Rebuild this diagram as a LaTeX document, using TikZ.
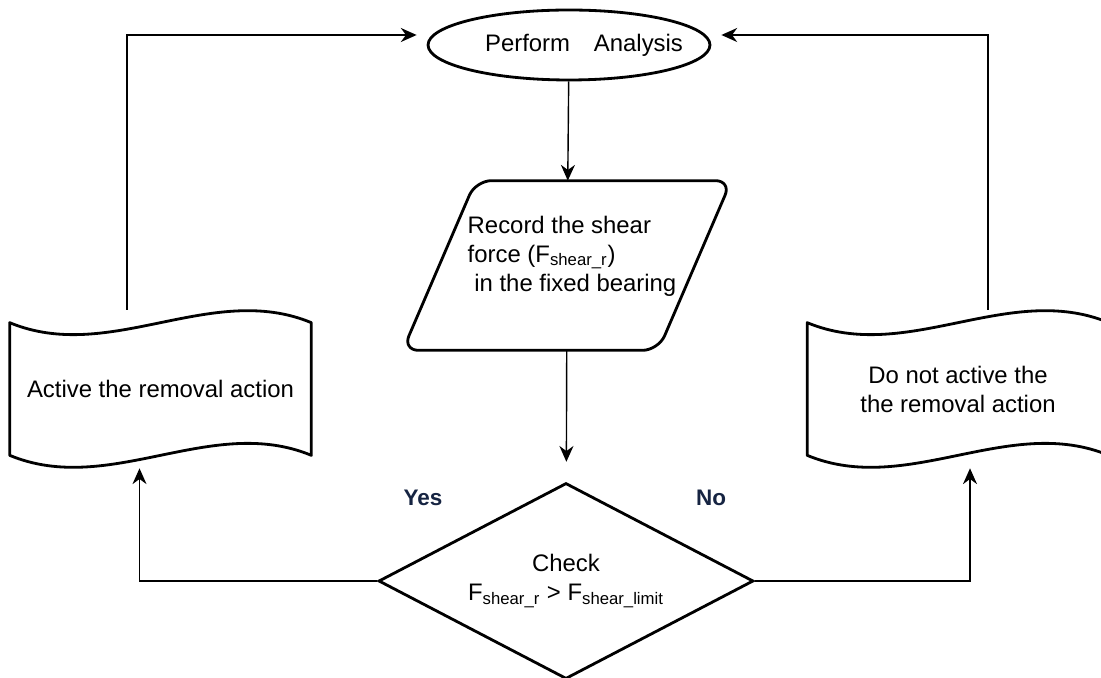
\documentclass[tikz,border=0pt]{standalone}
\usepackage{fontspec}
\setmainfont{Liberation Sans}
\usepackage{tikz}
\usetikzlibrary{arrows.meta,positioning,shapes.geometric}
\definecolor{answercolor}{RGB}{22,36,66}

\tikzset{
  base/.style={font=\fontsize{13.6}{16.5}\selectfont, text=black},
  startstop/.style={base, ellipse, draw, line width=1.6pt, minimum width=5.64cm,
                    minimum height=1.4cm, inner sep=0pt},
  iobox/.style={minimum width=6.56cm, minimum height=3.38cm, inner sep=0pt},
  decision/.style={base, diamond, draw, line width=1.6pt, aspect=1.91,
                   minimum width=7.5cm, minimum height=3.92cm, inner sep=0pt,
                   align=center},
  tapebox/.style={base, minimum width=6.02cm, minimum height=3.16cm, inner sep=0pt,
                  align=center},
  shapeline/.style={line width=1.6pt, line join=round},
  flow/.style={-{Stealth[length=9pt,width=8pt]}, line width=0.8pt},
  answer/.style={font=\bfseries\fontsize{12.8}{15}\selectfont, text=answercolor}
}

% wavy document outline drawn round a tapebox node
\newcommand{\tapeoutline}[1]{%
  \draw[shapeline] ([yshift=-0.26cm]#1.north west)
    .. controls +(2cm,-0.83cm) and +(-2cm,0.83cm) .. ([yshift=-0.26cm]#1.north east)
    -- ([yshift=0.26cm]#1.south east)
    .. controls +(-2cm,0.83cm) and +(2cm,-0.83cm) .. ([yshift=0.26cm]#1.south west)
    -- cycle;}

\begin{document}
\begin{tikzpicture}[x=0.02cm, y=-0.02cm]
  \useasboundingbox (0,0) rectangle (1101,678);

  \node[startstop] (perform) at (569,45)
    {\makebox[3.5cm]{\hspace{0.6cm}Perform\quad Analysis}};

  \node[iobox] (record) at (567,265.5) {};
  \draw[shapeline, rounded corners=9pt] (record.south west)
    -- ([xshift=-1.46cm]record.south east) -- (record.north east)
    -- ([xshift=1.46cm]record.north west) -- cycle;
  \node[base, align=left] (recordtext) at (572,256)
    {Record the shear\\force (F\textsubscript{shear\_r})\\\ in the fixed bearing};

  \node[decision] (check) at (566,581)
    {Check\\F\textsubscript{shear\_r} > F\textsubscript{shear\_limit}};

  \node[tapebox] (activate) at (160.5,389) {Active the removal action};
  \tapeoutline{activate}
  \node[tapebox] (skip) at (958,389) {Do not active the\\the removal action};
  \tapeoutline{skip}

  \node[answer] (yes) at (423,498) {Yes};
  \node[answer] (no) at (711,498) {No};

  % main line
  \draw[flow] (perform) -- (record);
  \draw[flow, shorten >=0.4cm] (record) -- (check);

  % branches
  \draw[flow] (check.west) -| ([xshift=-0.42cm]activate.south);
  \draw[flow] (check.east) -| ([xshift=0.24cm]skip.south);

  % back to the analysis
  \draw[flow] ([xshift=-0.67cm]activate.north) |- ([xshift=-0.2cm,yshift=0.2cm]perform.west);
  \draw[flow] ([xshift=0.6cm]skip.north) |- ([xshift=0.2cm,yshift=0.2cm]perform.east);
\end{tikzpicture}
\end{document}
